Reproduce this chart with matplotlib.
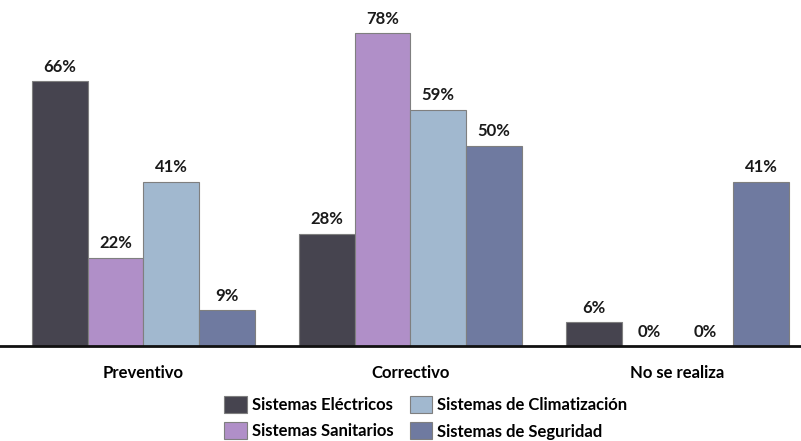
import matplotlib
matplotlib.use("Agg")
import matplotlib.pyplot as plt
import numpy as np

categories = ["Preventivo", "Correctivo", "No se realiza"]
series_names = [
    "Sistemas Eléctricos",
    "Sistemas Sanitarios",
    "Sistemas de Climatización",
    "Sistemas de Seguridad",
]
electricos = [66, 28, 6]
sanitarios = [22, 78, 0]
climatizacion = [41, 59, 0]
seguridad = [9, 50, 41]
series_values = [electricos, sanitarios, climatizacion, seguridad]
colors = ["#46444f", "#b08fc8", "#a1b8cf", "#6f7aa0"]

plt.rcParams["font.family"] = ["Lato", "DejaVu Sans"]
plt.rcParams["font.weight"] = "bold"

fig = plt.figure(figsize=(8.01, 4.41), dpi=100)
ax = fig.add_axes([0.0, 0.2154, 1.0, 0.768])

x = np.arange(len(categories))
width = 0.209
handles = []
for i, (name, vals, col) in enumerate(zip(series_names, series_values, colors)):
    pos = x + (i - 1.5) * width
    bars = ax.bar(pos, vals, width, color=col, edgecolor="#7f7f7f",
                  linewidth=0.8, label=name)
    handles.append(bars)
    for p, v in zip(pos, vals):
        ax.text(p, v + 1.6, f"{v}%", ha="center", va="bottom",
                fontsize=12, fontweight="bold", color="#1a1a1a")

ax.set_xlim(-0.537, 2.463)
ax.set_ylim(0, 84.5)
for side in ("top", "right", "left"):
    ax.spines[side].set_visible(False)
ax.spines["bottom"].set_linewidth(2.0)
ax.spines["bottom"].set_color("#111111")
ax.set_yticks([])
ax.set_xticks(x)
ax.set_xticklabels(categories, fontsize=12, fontweight="bold")
ax.tick_params(axis="x", length=0, pad=14)

fig.legend(handles=handles, labels=series_names, ncol=2,
           loc="upper left", bbox_to_anchor=(224 / 801, 1 - 396 / 441),
           frameon=False, fontsize=12, borderpad=0, borderaxespad=0,
           handlelength=1.35, handleheight=1.2, handletextpad=0.3,
           columnspacing=1.0, labelspacing=0.55)

fig.savefig("out.png", dpi=100, facecolor="white")
